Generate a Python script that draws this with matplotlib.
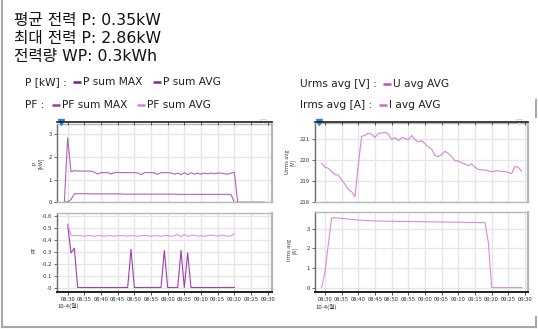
import numpy as np
import pandas as pd
import matplotlib
matplotlib.use("Agg")
import matplotlib.pyplot as plt
import matplotlib.dates as mdates
from matplotlib.lines import Line2D
from matplotlib.ticker import FuncFormatter

plt.rcParams["font.family"] = ["Noto Sans CJK KR", "DejaVu Sans"]

W, H = 538, 329

# one reading per minute
t_all = pd.date_range("2021-10-04 08:29", periods=61, freq="min")
t_pf = pd.date_range("2021-10-04 08:30", periods=51, freq="min")

p_sum_max = [0, 2.86, 1.35, 1.40, 1.38, 1.38, 1.38, 1.38, 1.38, 1.33,
             1.25, 1.31, 1.31, 1.31, 1.25, 1.31, 1.32, 1.31, 1.31, 1.31,
             1.31, 1.31, 1.30, 1.22, 1.31, 1.31, 1.31, 1.30, 1.24, 1.31,
             1.31, 1.31, 1.30, 1.24, 1.29, 1.22, 1.31, 1.22, 1.31, 1.24,
             1.29, 1.24, 1.29, 1.26, 1.29, 1.26, 1.29, 1.29, 1.26, 1.24,
             1.29, 1.33, 0, 0, 0, 0, 0, 0, 0, 0, 0]
p_sum_avg = [0, 0.02, 0.12, 0.38, 0.38, 0.38, 0.38, 0.38, 0.37, 0.37,
             0.37, 0.37, 0.37, 0.37, 0.37, 0.37, 0.37, 0.37, 0.36, 0.36,
             0.36, 0.36, 0.36, 0.36, 0.36, 0.36, 0.36, 0.36, 0.36, 0.36,
             0.36, 0.36, 0.36, 0.36, 0.35, 0.35, 0.35, 0.35, 0.35, 0.35,
             0.35, 0.35, 0.35, 0.35, 0.35, 0.35, 0.35, 0.35, 0.35, 0.35,
             0.35, 0, 0, 0, 0, 0, 0, 0, 0, 0, 0]

pf_sum_max = [-0.53, -0.29, -0.33, 0, 0, 0, 0, 0, 0, 0,
              0, 0, 0, 0, 0, 0, 0, 0, 0, -0.32,
              0, 0, 0, 0, 0, 0, 0, 0, 0, -0.31,
              0, 0, 0, 0, -0.31, 0, -0.29, 0, 0, 0,
              0, 0, 0, 0, 0, 0, 0, 0, 0, 0, 0]
pf_sum_avg = [-0.53, -0.44, -0.435, -0.435, -0.435, -0.43, -0.435, -0.435, -0.43, -0.435,
              -0.435, -0.43, -0.435, -0.435, -0.43, -0.435, -0.435, -0.435, -0.43, -0.435,
              -0.435, -0.43, -0.435, -0.435, -0.435, -0.43, -0.435, -0.435, -0.43, -0.435,
              -0.435, -0.43, -0.435, -0.445, -0.425, -0.445, -0.43, -0.435, -0.44, -0.43,
              -0.435, -0.43, -0.435, -0.44, -0.435, -0.43, -0.44, -0.435, -0.43, -0.435,
              -0.45]

u_avg = [219.83, 219.65, 219.6, 219.45, 219.3, 219.28, 219.05, 218.85, 218.6, 218.5,
         218.25, 219.8, 221.1, 221.15, 221.25, 221.2, 221.05, 221.25, 221.25, 221.3,
         221.2, 220.95, 221.05, 220.9, 221.05, 221.0, 220.95, 221.15, 220.95, 220.85,
         220.9, 220.75, 220.6, 220.5, 220.2, 220.15, 220.25, 220.4, 220.3, 220.15,
         219.95, 219.95, 219.85, 219.8, 219.72, 219.8, 219.65, 219.55, 219.52, 219.52,
         219.48, 219.43, 219.48, 219.48, 219.45, 219.45, 219.4, 219.35, 219.68, 219.65,
         219.45]
i_avg = [0, 0.8, 2.2, 3.55, 3.54, 3.53, 3.52, 3.5, 3.48, 3.46,
         3.45, 3.43, 3.42, 3.41, 3.40, 3.39, 3.39, 3.38, 3.38, 3.37,
         3.37, 3.37, 3.36, 3.36, 3.36, 3.36, 3.36, 3.35, 3.35, 3.35,
         3.35, 3.34, 3.34, 3.34, 3.34, 3.33, 3.33, 3.33, 3.33, 3.32,
         3.32, 3.32, 3.32, 3.31, 3.31, 3.31, 3.31, 3.30, 3.30, 3.30,
         2.3, 0, 0, 0, 0, 0, 0, 0, 0, 0, 0]

summary = ["평균 전력 P: 0.35kW", "최대 전력 P: 2.86kW", "전력량 WP: 0.3kWh"]

c_pmax = "#b064b8"
c_pavg = "#b064b8"
c_pfmax = "#a23cb2"
c_pfavg = "#e192e2"
c_u = "#d784da"
c_i = "#da8cdc"

t0 = pd.Timestamp("2021-10-04 08:30")


def mins(m):
    return t0 + pd.Timedelta(minutes=m)


def box(x0, y0, x1, y1):
    return [x0 / W, 1 - y1 / H, (x1 - x0) / W, (y1 - y0) / H]


fig = plt.figure(figsize=(W / 100, H / 100), dpi=100)
fig.patch.set_facecolor("white")

tick_fs = 4.3


def style(ax, xlo, xhi, bottom):
    ax.set_xlim(mins(xlo), mins(xhi))
    for s in ax.spines.values():
        s.set_color("#b8b8b8")
        s.set_linewidth(1)
    ax.spines["right"].set_linewidth(1.6)
    ax.spines["left"].set_color("#6a6a6a")
    ax.grid(True, color="#e6e6e6", lw=1)
    ax.set_axisbelow(True)
    ax.tick_params(axis="y", labelsize=tick_fs, length=2.5, width=0.6, color="#505050",
                   pad=1, labelcolor="#333333")
    ax.xaxis.set_major_locator(mdates.MinuteLocator(byminute=range(0, 60, 5)))
    if bottom:
        ax.spines["bottom"].set_color("#202020")
        ax.spines["bottom"].set_linewidth(1.4)
        ax.xaxis.set_major_formatter(mdates.DateFormatter("%H:%M"))
        ax.tick_params(axis="x", labelsize=tick_fs, length=2.5, width=0.6, pad=1.2,
                       color="#303030", labelcolor="#333333")
        ax.text(0, -0.14, "10-4(월)", transform=ax.transAxes, fontsize=tick_fs,
                color="#333333", ha="left", va="top")
    else:
        ax.tick_params(axis="x", length=0, labelbottom=False)


def ruler(x0, x1, xlo, xhi):
    r = fig.add_axes(box(x0, 121.7, x1, 124))
    r.set_xlim(mins(xlo), mins(xhi))
    r.set_ylim(0, 1)
    for k in ("left", "right", "bottom"):
        r.spines[k].set_visible(False)
    r.spines["top"].set_color("#202020")
    r.spines["top"].set_linewidth(1.2)
    r.set_yticks([])
    r.xaxis.set_major_locator(mdates.MinuteLocator(byminute=range(0, 60, 5)))
    r.tick_params(axis="x", top=True, bottom=False, labelbottom=False,
                  direction="in", length=2, width=0.6, color="#404040")
    r.patch.set_alpha(0)
    r.plot([0.02], [1.0], marker="v", ms=4.5, color="#2f7fe0", transform=r.transAxes,
           clip_on=False)
    r.plot([0.96], [1.0], marker="v", ms=4.5, mfc="white", mec="#d0d0d0", mew=0.6,
           transform=r.transAxes, clip_on=False)


def ylabel(x, y, s):
    fig.text(x / W, 1 - y / H, s, fontsize=4.0, rotation=90, ha="center", va="center",
             color="#333333", linespacing=1.0)


# left panel: P and PF
lx = (-3.2, 61.3)
ax_p = fig.add_axes(box(57, 124, 272, 202.3))
style(ax_p, *lx, False)
ax_p.plot(t_all, p_sum_max, color=c_pmax, lw=0.8)
ax_p.plot(t_all, p_sum_avg, color=c_pavg, lw=0.8)
ax_p.set_ylim(0, 3.46)
ax_p.set_yticks([0, 1, 2, 3])
ruler(57, 272, *lx)
ylabel(38, 163, "P\n[kW]")

ax_pf = fig.add_axes(box(57, 213, 272, 292.3))
style(ax_pf, *lx, True)
ax_pf.plot(t_pf, pf_sum_max, color=c_pfmax, lw=0.8)
ax_pf.plot(t_pf, pf_sum_avg, color=c_pfavg, lw=0.8)
ax_pf.set_ylim(0.04, -0.625)
ax_pf.set_yticks([0, -0.1, -0.2, -0.3, -0.4, -0.5, -0.6])
ax_pf.yaxis.set_major_formatter(FuncFormatter(
    lambda v, _: "-0" if abs(v) < 1e-9 else f"{v:.1f}"))
ylabel(34, 250, "PF")

# right panel: U and I
rx = (-3.0, 60.9)
ax_u = fig.add_axes(box(315, 123, 528, 202.3))
style(ax_u, *rx, False)
ax_u.plot(t_all, u_avg, color=c_u, lw=0.8)
ax_u.set_ylim(218, 221.73)
ax_u.set_yticks([218, 219, 220, 221])
ruler(315, 528, *rx)
ylabel(290, 162, "Urms avg\n[V]")

ax_i = fig.add_axes(box(315, 212, 528, 292.3))
style(ax_i, *rx, True)
ax_i.plot(t_all, i_avg, color=c_i, lw=0.8)
ax_i.set_ylim(-0.24, 3.84)
ax_i.set_yticks([0, 1, 2, 3])
ylabel(292, 250, "Irms avg\n[A]")

# summary text: Latin from DejaVu, Hangul from Noto
for k, s in enumerate(summary):
    fig.text(14 / W, 1 - (20 + k * 18.5) / H, s, fontsize=11.3, ha="left", va="center",
             color="#111111", family=["DejaVu Sans", "Noto Sans CJK KR"])


# legend rows: label, then swatch + series name
def legend_row(y, items):
    for kind, x, val, col in items:
        if kind == "t":
            fig.text(x / W, 1 - y / H, val, fontsize=7.7, ha="left", va="center",
                     color=col, family="DejaVu Sans")
        else:
            fig.add_artist(Line2D([x / W, (x + 8) / W], [1 - y / H, 1 - y / H],
                                  color=col, lw=1.8, solid_capstyle="butt"))


txt = "#202020"
legend_row(82, [("t", 25, "P [kW] :", txt), ("s", 73, None, "#7e1a86"),
                ("t", 83, "P sum MAX", txt), ("s", 153, None, "#8a2692"),
                ("t", 163, "P sum AVG", txt)])
legend_row(105, [("t", 25, "PF :", txt), ("s", 52, None, "#9a3aa2"),
                 ("t", 62, "PF sum MAX", txt), ("s", 137, None, "#e07ee0"),
                 ("t", 147, "PF sum AVG", txt)])
legend_row(84, [("t", 300, "Urms avg [V] :", txt), ("s", 383, None, "#c24ac6"),
                ("t", 393, "U avg AVG", txt)])
legend_row(105, [("t", 300, "Irms avg [A] :", txt), ("s", 379, None, "#d066d4"),
                 ("t", 389, "I avg AVG", txt)])

# outer frame
for xs, ys in [([2, 2], [0, 327]), ([2, 536], [327, 327]),
               ([536, 536], [100, 117]), ([536, 536], [317, 327])]:
    fig.add_artist(Line2D([x / W for x in xs], [1 - y / H for y in ys],
                          color="#a8a8a8", lw=1.5))

fig.savefig("out.png", dpi=100)
